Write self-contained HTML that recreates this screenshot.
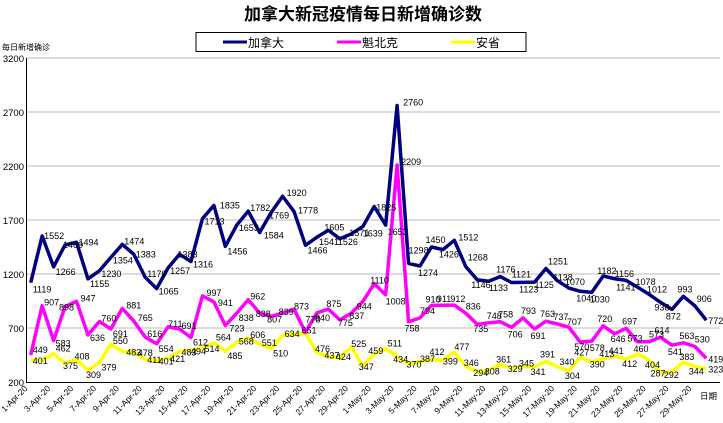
<!DOCTYPE html>
<html><head><meta charset="utf-8"><style>
html,body{margin:0;padding:0;background:#fff;width:723px;height:423px;overflow:hidden}
svg{display:block;font-family:"Liberation Sans","Noto Sans CJK SC",sans-serif}
.l{font-size:9.5px;fill:#000}
.d{font-size:8.5px;fill:#000}
</style></head><body>
<svg width="723" height="423" viewBox="0 0 723 423">
<text x="363" y="20" text-anchor="middle" font-size="17" font-weight="bold" font-family="'Liberation Sans','Noto Sans CJK SC',sans-serif">加拿大新冠疫情每日新增确诊数</text>
<rect x="196" y="32.5" width="330" height="19" fill="#fff" stroke="#000" stroke-width="1"/>
<line x1="223" y1="42" x2="247" y2="42" stroke="#000080" stroke-width="3"/>
<text x="248" y="47" font-size="12">加拿大</text>
<line x1="337" y1="42" x2="361" y2="42" stroke="#FF00FF" stroke-width="3"/>
<text x="362" y="47" font-size="12">魁北克</text>
<line x1="451" y1="42" x2="475" y2="42" stroke="#FFFF00" stroke-width="3"/>
<text x="476" y="47" font-size="12">安省</text>
<text x="2" y="50" font-size="8">每日新增确诊</text>
<g stroke="#bbb" stroke-width="1">
<line x1="26" y1="58" x2="720" y2="58"/><line x1="26" y1="112" x2="720" y2="112"/><line x1="26" y1="166" x2="720" y2="166"/><line x1="26" y1="220" x2="720" y2="220"/><line x1="26" y1="274" x2="720" y2="274"/><line x1="26" y1="328" x2="720" y2="328"/>
</g>
<line x1="26.5" y1="58" x2="26.5" y2="383" stroke="#000"/>
<line x1="26" y1="382.5" x2="720" y2="382.5" stroke="#000"/>
<g class="l" text-anchor="end">
<text x="24" y="62">3200</text><text x="24" y="116">2700</text><text x="24" y="170">2200</text><text x="24" y="224">1700</text><text x="24" y="278">1200</text><text x="24" y="332">700</text><text x="24" y="386">200</text>
</g>
<g class="d" text-anchor="end" font-size="8.5">
<text transform="translate(28,389) rotate(-45)">1-Apr-20</text>
<text transform="translate(50.9,389) rotate(-45)">3-Apr-20</text>
<text transform="translate(73.8,389) rotate(-45)">5-Apr-20</text>
<text transform="translate(96.7,389) rotate(-45)">7-Apr-20</text>
<text transform="translate(119.6,389) rotate(-45)">9-Apr-20</text>
<text transform="translate(142.5,389) rotate(-45)">11-Apr-20</text>
<text transform="translate(165.4,389) rotate(-45)">13-Apr-20</text>
<text transform="translate(188.3,389) rotate(-45)">15-Apr-20</text>
<text transform="translate(211.2,389) rotate(-45)">17-Apr-20</text>
<text transform="translate(234.1,389) rotate(-45)">19-Apr-20</text>
<text transform="translate(257,389) rotate(-45)">21-Apr-20</text>
<text transform="translate(279.9,389) rotate(-45)">23-Apr-20</text>
<text transform="translate(302.8,389) rotate(-45)">25-Apr-20</text>
<text transform="translate(325.7,389) rotate(-45)">27-Apr-20</text>
<text transform="translate(348.6,389) rotate(-45)">29-Apr-20</text>
<text transform="translate(371.5,389) rotate(-45)">1-May-20</text>
<text transform="translate(394.4,389) rotate(-45)">3-May-20</text>
<text transform="translate(417.3,389) rotate(-45)">5-May-20</text>
<text transform="translate(440.2,389) rotate(-45)">7-May-20</text>
<text transform="translate(463.1,389) rotate(-45)">9-May-20</text>
<text transform="translate(486,389) rotate(-45)">11-May-20</text>
<text transform="translate(508.9,389) rotate(-45)">13-May-20</text>
<text transform="translate(531.8,389) rotate(-45)">15-May-20</text>
<text transform="translate(554.7,389) rotate(-45)">17-May-20</text>
<text transform="translate(577.6,389) rotate(-45)">19-May-20</text>
<text transform="translate(600.5,389) rotate(-45)">21-May-20</text>
<text transform="translate(623.4,389) rotate(-45)">23-May-20</text>
<text transform="translate(646.3,389) rotate(-45)">25-May-20</text>
<text transform="translate(669.2,389) rotate(-45)">27-May-20</text>
<text transform="translate(692.1,389) rotate(-45)">29-May-20</text>
</g>
<text x="700" y="399" font-size="8.5">日期</text>

<g transform="translate(30.7,382) scale(11.45,-0.108) translate(0,-200)" fill="none" stroke-linejoin="round">
<polyline vector-effect="non-scaling-stroke" stroke="#FFFF00" stroke-width="3.5" points="0,402 1,401 2,462 3,375 4,408 5,309 6,379 7,550 8,483 9,478 10,411 11,401 12,421 13,483 14,494 15,514 16,564 17,485 18,568 19,606 20,551 21,510 22,634 23,640 24,651 25,476 26,437 27,424 28,525 29,347 30,459 31,511 32,434 33,370 34,387 35,412 36,399 37,477 38,346 39,294 40,308 41,361 42,329 43,345 44,341 45,391 46,340 47,304 48,427 49,390 50,413 51,441 52,412 53,460 54,404 55,287 56,292 57,383 58,344 59,323"/>
<polyline vector-effect="non-scaling-stroke" stroke="#FF00FF" stroke-width="3.5" points="0,449 1,907 2,583 3,898 4,947 5,636 6,760 7,691 8,881 9,765 10,616 11,554 12,711 13,691 14,612 15,997 16,941 17,723 18,838 19,962 20,838 21,807 22,839 23,873 24,660 25,840 26,875 27,775 28,837 29,944 30,1110 31,1008 32,2209 33,758 34,794 35,910 36,911 37,912 38,836 39,735 40,748 41,758 42,706 43,793 44,691 45,763 46,737 47,707 48,570 49,578 50,720 51,646 52,697 53,573 54,573 55,614 56,541 57,563 58,530 59,419"/>
<polyline vector-effect="non-scaling-stroke" stroke="#000080" stroke-width="3.5" points="0,1119 1,1552 2,1266 3,1469 4,1494 5,1155 6,1230 7,1354 8,1474 9,1383 10,1170 11,1065 12,1257 13,1383 14,1316 15,1713 16,1835 17,1456 18,1653 19,1782 20,1584 21,1769 22,1920 23,1778 24,1466 25,1541 26,1605 27,1526 28,1571 29,1639 30,1825 31,1653 32,2760 33,1298 34,1274 35,1450 36,1426 37,1512 38,1268 39,1146 40,1133 41,1176 42,1121 43,1123 44,1125 45,1251 46,1138 47,1070 48,1040 49,1030 50,1182 51,1156 52,1141 53,1078 54,1012 55,938 56,872 57,993 58,906 59,772"/>
<g fill="#000" stroke="none" font-size="9" font-family="'Liberation Sans',sans-serif">
<text transform="translate(0,1119) scale(.08734,-9.259)" x="2" y="10">1119</text>
<text transform="translate(1,1552) scale(.08734,-9.259)" x="2" y="3">1552</text>
<text transform="translate(2,1266) scale(.08734,-9.259)" x="2" y="8">1266</text>
<text transform="translate(3,1469) scale(.08734,-9.259)" x="-2" y="3">1469</text>
<text transform="translate(4,1494) scale(.08734,-9.259)" x="2" y="3">1494</text>
<text transform="translate(5,1155) scale(.08734,-9.259)" x="2" y="8">1155</text>
<text transform="translate(6,1230) scale(.08734,-9.259)" x="2" y="6">1230</text>
<text transform="translate(7,1354) scale(.08734,-9.259)" x="2" y="6">1354</text>
<text transform="translate(8,1474) scale(.08734,-9.259)" x="2" y="0">1474</text>
<text transform="translate(9,1383) scale(.08734,-9.259)" x="2" y="3">1383</text>
<text transform="translate(10,1170) scale(.08734,-9.259)" x="2" y="0">1170</text>
<text transform="translate(11,1065) scale(.08734,-9.259)" x="2" y="6">1065</text>
<text transform="translate(12,1257) scale(.08734,-9.259)" x="2" y="6">1257</text>
<text transform="translate(13,1383) scale(.08734,-9.259)" x="-2" y="3">1383</text>
<text transform="translate(14,1316) scale(.08734,-9.259)" x="2" y="6">1316</text>
<text transform="translate(15,1713) scale(.08734,-9.259)" x="2" y="6">1713</text>
<text transform="translate(16,1835) scale(.08734,-9.259)" x="6" y="3">1835</text>
<text transform="translate(17,1456) scale(.08734,-9.259)" x="2" y="8">1456</text>
<text transform="translate(18,1653) scale(.08734,-9.259)" x="2" y="6">1653</text>
<text transform="translate(19,1782) scale(.08734,-9.259)" x="2" y="0">1782</text>
<text transform="translate(20,1584) scale(.08734,-9.259)" x="4" y="6">1584</text>
<text transform="translate(21,1769) scale(.08734,-9.259)" x="-2" y="6">1769</text>
<text transform="translate(22,1920) scale(.08734,-9.259)" x="4" y="0">1920</text>
<text transform="translate(23,1778) scale(.08734,-9.259)" x="4" y="2">1778</text>
<text transform="translate(24,1466) scale(.08734,-9.259)" x="2" y="8">1466</text>
<text transform="translate(25,1541) scale(.08734,-9.259)" x="2" y="8">1541</text>
<text transform="translate(26,1605) scale(.08734,-9.259)" x="-4" y="0">1605</text>
<text transform="translate(27,1526) scale(.08734,-9.259)" x="-2" y="6">1526</text>
<text transform="translate(28,1571) scale(.08734,-9.259)" x="-2" y="2">1571</text>
<text transform="translate(29,1639) scale(.08734,-9.259)" x="0" y="10">1639</text>
<text transform="translate(30,1825) scale(.08734,-9.259)" x="2" y="4">1825</text>
<text transform="translate(31,1653) scale(.08734,-9.259)" x="2" y="10">1653</text>
<text transform="translate(32,2760) scale(.08734,-9.259)" x="6" y="0">2760</text>
<text transform="translate(33,1298) scale(.08734,-9.259)" x="0" y="-10">1298</text>
<text transform="translate(34,1274) scale(.08734,-9.259)" x="-2" y="10">1274</text>
<text transform="translate(35,1450) scale(.08734,-9.259)" x="-6" y="-4">1450</text>
<text transform="translate(36,1426) scale(.08734,-9.259)" x="-4" y="8">1426</text>
<text transform="translate(37,1512) scale(.08734,-9.259)" x="4" y="0">1512</text>
<text transform="translate(38,1268) scale(.08734,-9.259)" x="2" y="-6">1268</text>
<text transform="translate(39,1146) scale(.08734,-9.259)" x="-6" y="8">1146</text>
<text transform="translate(40,1133) scale(.08734,-9.259)" x="0" y="10">1133</text>
<text transform="translate(41,1176) scale(.08734,-9.259)" x="-4" y="-4">1176</text>
<text transform="translate(42,1121) scale(.08734,-9.259)" x="0" y="-5">1121</text>
<text transform="translate(43,1123) scale(.08734,-9.259)" x="-4" y="10">1123</text>
<text transform="translate(44,1125) scale(.08734,-9.259)" x="0" y="6">1125</text>
<text transform="translate(45,1251) scale(.08734,-9.259)" x="2" y="-4">1251</text>
<text transform="translate(46,1138) scale(.08734,-9.259)" x="-4" y="0">1138</text>
<text transform="translate(47,1070) scale(.08734,-9.259)" x="-4" y="-3">1070</text>
<text transform="translate(48,1040) scale(.08734,-9.259)" x="-4" y="10">1040</text>
<text transform="translate(49,1030) scale(.08734,-9.259)" x="-2" y="10">1030</text>
<text transform="translate(50,1182) scale(.08734,-9.259)" x="-6" y="-2">1182</text>
<text transform="translate(51,1156) scale(.08734,-9.259)" x="0" y="-2">1156</text>
<text transform="translate(52,1141) scale(.08734,-9.259)" x="-10" y="10">1141</text>
<text transform="translate(53,1078) scale(.08734,-9.259)" x="-2" y="-2">1078</text>
<text transform="translate(54,1012) scale(.08734,-9.259)" x="-2" y="-2">1012</text>
<text transform="translate(55,938) scale(.08734,-9.259)" x="-6" y="8">938</text>
<text transform="translate(56,872) scale(.08734,-9.259)" x="-6" y="10">872</text>
<text transform="translate(57,993) scale(.08734,-9.259)" x="-6" y="-4">993</text>
<text transform="translate(58,906) scale(.08734,-9.259)" x="2" y="-4">906</text>
<text transform="translate(59,772) scale(.08734,-9.259)" x="2" y="4">772</text>

<text transform="translate(0,449) scale(.08734,-9.259)" x="2" y="-2">449</text>
<text transform="translate(1,907) scale(.08734,-9.259)" x="2" y="0">907</text>
<text transform="translate(2,583) scale(.08734,-9.259)" x="2" y="6">583</text>
<text transform="translate(3,898) scale(.08734,-9.259)" x="-6" y="4">898</text>
<text transform="translate(4,947) scale(.08734,-9.259)" x="4" y="0">947</text>
<text transform="translate(5,636) scale(.08734,-9.259)" x="2" y="6">636</text>
<text transform="translate(6,760) scale(.08734,-9.259)" x="2" y="0">760</text>
<text transform="translate(7,691) scale(.08734,-9.259)" x="2" y="8">691</text>
<text transform="translate(8,881) scale(.08734,-9.259)" x="4" y="0">881</text>
<text transform="translate(9,765) scale(.08734,-9.259)" x="4" y="0">765</text>
<text transform="translate(10,616) scale(.08734,-9.259)" x="2" y="0">616</text>
<text transform="translate(11,554) scale(.08734,-9.259)" x="2" y="8">554</text>
<text transform="translate(12,711) scale(.08734,-9.259)" x="0" y="0">711</text>
<text transform="translate(13,691) scale(.08734,-9.259)" x="2" y="0">691</text>
<text transform="translate(14,612) scale(.08734,-9.259)" x="2" y="8">612</text>
<text transform="translate(15,997) scale(.08734,-9.259)" x="4" y="0">997</text>
<text transform="translate(16,941) scale(.08734,-9.259)" x="4" y="4">941</text>
<text transform="translate(17,723) scale(.08734,-9.259)" x="4" y="6">723</text>
<text transform="translate(18,838) scale(.08734,-9.259)" x="2" y="8">838</text>
<text transform="translate(19,962) scale(.08734,-9.259)" x="2" y="0">962</text>
<text transform="translate(20,838) scale(.08734,-9.259)" x="-4" y="4">838</text>
<text transform="translate(21,807) scale(.08734,-9.259)" x="-4" y="6">807</text>
<text transform="translate(22,839) scale(.08734,-9.259)" x="-4" y="2">839</text>
<text transform="translate(23,873) scale(.08734,-9.259)" x="0" y="0">873</text>
<text transform="translate(24,660) scale(.08734,-9.259)" x="0" y="-10">778</text>
<text transform="translate(25,840) scale(.08734,-9.259)" x="-2" y="8">840</text>
<text transform="translate(26,875) scale(.08734,-9.259)" x="-2" y="-2">875</text>
<text transform="translate(27,775) scale(.08734,-9.259)" x="-2" y="6">775</text>
<text transform="translate(28,837) scale(.08734,-9.259)" x="-2" y="6">837</text>
<text transform="translate(29,944) scale(.08734,-9.259)" x="-6" y="8">944</text>
<text transform="translate(30,1110) scale(.08734,-9.259)" x="-4" y="0">1110</text>
<text transform="translate(31,1008) scale(.08734,-9.259)" x="0" y="10">1008</text>
<text transform="translate(32,2209) scale(.08734,-9.259)" x="4" y="0">2209</text>
<text transform="translate(33,758) scale(.08734,-9.259)" x="-4" y="10">758</text>
<text transform="translate(34,794) scale(.08734,-9.259)" x="0" y="-4">794</text>
<text transform="translate(35,910) scale(.08734,-9.259)" x="-6" y="-3">910</text>
<text transform="translate(36,911) scale(.08734,-9.259)" x="-6" y="-3">911</text>
<text transform="translate(37,912) scale(.08734,-9.259)" x="-4" y="-3">912</text>
<text transform="translate(38,836) scale(.08734,-9.259)" x="0" y="-4">836</text>
<text transform="translate(39,735) scale(.08734,-9.259)" x="-4" y="8">735</text>
<text transform="translate(40,748) scale(.08734,-9.259)" x="-2" y="-4">748</text>
<text transform="translate(41,758) scale(.08734,-9.259)" x="-2" y="-4">758</text>
<text transform="translate(42,706) scale(.08734,-9.259)" x="-4" y="10">706</text>
<text transform="translate(43,793) scale(.08734,-9.259)" x="-2" y="-4">793</text>
<text transform="translate(44,691) scale(.08734,-9.259)" x="-4" y="10">691</text>
<text transform="translate(45,763) scale(.08734,-9.259)" x="-6" y="-4">763</text>
<text transform="translate(46,737) scale(.08734,-9.259)" x="-4" y="-4">737</text>
<text transform="translate(47,707) scale(.08734,-9.259)" x="-2" y="-2">707</text>
<text transform="translate(48,570) scale(.08734,-9.259)" x="-6" y="8">570</text>
<text transform="translate(49,578) scale(.08734,-9.259)" x="-2" y="10">578</text>
<text transform="translate(50,720) scale(.08734,-9.259)" x="-6" y="-4">720</text>
<text transform="translate(51,646) scale(.08734,-9.259)" x="-4" y="8">646</text>
<text transform="translate(52,697) scale(.08734,-9.259)" x="-4" y="-4">697</text>
<text transform="translate(53,573) scale(.08734,-9.259)" x="-10" y="0">573</text>
<text transform="translate(54,573) scale(.08734,-9.259)" x="0" y="-4">573</text>
<text transform="translate(55,614) scale(.08734,-9.259)" x="-6" y="-4">614</text>
<text transform="translate(56,541) scale(.08734,-9.259)" x="-4" y="10">541</text>
<text transform="translate(57,563) scale(.08734,-9.259)" x="-4" y="-4">563</text>
<text transform="translate(58,530) scale(.08734,-9.259)" x="0" y="-4">530</text>
<text transform="translate(59,419) scale(.08734,-9.259)" x="2" y="4">419</text>

<text transform="translate(0,402) scale(.08734,-9.259)" x="2" y="4">401</text>
<text transform="translate(2,462) scale(.08734,-9.259)" x="2" y="-2">462</text>
<text transform="translate(3,375) scale(.08734,-9.259)" x="-2" y="6">375</text>
<text transform="translate(4,408) scale(.08734,-9.259)" x="-2" y="0">408</text>
<text transform="translate(5,309) scale(.08734,-9.259)" x="-2" y="8">309</text>
<text transform="translate(6,379) scale(.08734,-9.259)" x="2" y="8">379</text>
<text transform="translate(7,550) scale(.08734,-9.259)" x="2" y="0">550</text>
<text transform="translate(8,483) scale(.08734,-9.259)" x="4" y="4">483</text>
<text transform="translate(9,478) scale(.08734,-9.259)" x="4" y="4">478</text>
<text transform="translate(10,411) scale(.08734,-9.259)" x="2" y="4">411</text>
<text transform="translate(11,401) scale(.08734,-9.259)" x="2" y="4">401</text>
<text transform="translate(12,421) scale(.08734,-9.259)" x="2" y="4">421</text>
<text transform="translate(13,483) scale(.08734,-9.259)" x="2" y="4">483</text>
<text transform="translate(14,494) scale(.08734,-9.259)" x="0" y="4">494</text>
<text transform="translate(15,514) scale(.08734,-9.259)" x="2" y="4">514</text>
<text transform="translate(16,564) scale(.08734,-9.259)" x="2" y="-2">564</text>
<text transform="translate(17,485) scale(.08734,-9.259)" x="2" y="8">485</text>
<text transform="translate(18,568) scale(.08734,-9.259)" x="2" y="2">568</text>
<text transform="translate(19,606) scale(.08734,-9.259)" x="2" y="0">606</text>
<text transform="translate(20,551) scale(.08734,-9.259)" x="2" y="2">551</text>
<text transform="translate(21,510) scale(.08734,-9.259)" x="2" y="8">510</text>
<text transform="translate(22,634) scale(.08734,-9.259)" x="2" y="2">634</text>
<text transform="translate(24,651) scale(.08734,-9.259)" x="-4" y="0">651</text>
<text transform="translate(25,476) scale(.08734,-9.259)" x="-2" y="0">476</text>
<text transform="translate(26,437) scale(.08734,-9.259)" x="-4" y="2">437</text>
<text transform="translate(27,424) scale(.08734,-9.259)" x="-4" y="2">424</text>
<text transform="translate(28,525) scale(.08734,-9.259)" x="0" y="0">525</text>
<text transform="translate(29,347) scale(.08734,-9.259)" x="-4" y="4">347</text>
<text transform="translate(30,459) scale(.08734,-9.259)" x="-6" y="0">459</text>
<text transform="translate(31,511) scale(.08734,-9.259)" x="2" y="-2">511</text>
<text transform="translate(32,434) scale(.08734,-9.259)" x="-4" y="6">434</text>
<text transform="translate(33,370) scale(.08734,-9.259)" x="-2" y="4">370</text>
<text transform="translate(34,387) scale(.08734,-9.259)" x="0" y="0">387</text>
<text transform="translate(35,412) scale(.08734,-9.259)" x="-2" y="-4">412</text>
<text transform="translate(36,399) scale(.08734,-9.259)" x="0" y="4">399</text>
<text transform="translate(37,477) scale(.08734,-9.259)" x="0" y="-2">477</text>
<text transform="translate(38,346) scale(.08734,-9.259)" x="-2" y="0">346</text>
<text transform="translate(39,294) scale(.08734,-9.259)" x="-4" y="4">294</text>
<text transform="translate(40,308) scale(.08734,-9.259)" x="-4" y="4">308</text>
<text transform="translate(41,361) scale(.08734,-9.259)" x="-4" y="-2">361</text>
<text transform="translate(42,329) scale(.08734,-9.259)" x="-4" y="4">329</text>
<text transform="translate(43,345) scale(.08734,-9.259)" x="-4" y="0">345</text>
<text transform="translate(44,341) scale(.08734,-9.259)" x="-4" y="8">341</text>
<text transform="translate(45,391) scale(.08734,-9.259)" x="-6" y="-4">391</text>
<text transform="translate(46,340) scale(.08734,-9.259)" x="2" y="-2">340</text>
<text transform="translate(47,304) scale(.08734,-9.259)" x="-4" y="8">304</text>
<text transform="translate(48,427) scale(.08734,-9.259)" x="-6" y="-2">427</text>
<text transform="translate(49,390) scale(.08734,-9.259)" x="-2" y="6">390</text>
<text transform="translate(50,413) scale(.08734,-9.259)" x="-4" y="-2">413</text>
<text transform="translate(51,441) scale(.08734,-9.259)" x="-6" y="-2">441</text>
<text transform="translate(52,412) scale(.08734,-9.259)" x="-4" y="8">412</text>
<text transform="translate(53,460) scale(.08734,-9.259)" x="-4" y="-2">460</text>
<text transform="translate(54,404) scale(.08734,-9.259)" x="-4" y="8">404</text>
<text transform="translate(55,287) scale(.08734,-9.259)" x="-10" y="4">287</text>
<text transform="translate(56,292) scale(.08734,-9.259)" x="-8" y="6">292</text>
<text transform="translate(57,383) scale(.08734,-9.259)" x="-4" y="-2">383</text>
<text transform="translate(58,344) scale(.08734,-9.259)" x="-6" y="8">344</text>
<text transform="translate(59,323) scale(.08734,-9.259)" x="2" y="4">323</text>
</g>
</g>
</svg>
</body></html>
